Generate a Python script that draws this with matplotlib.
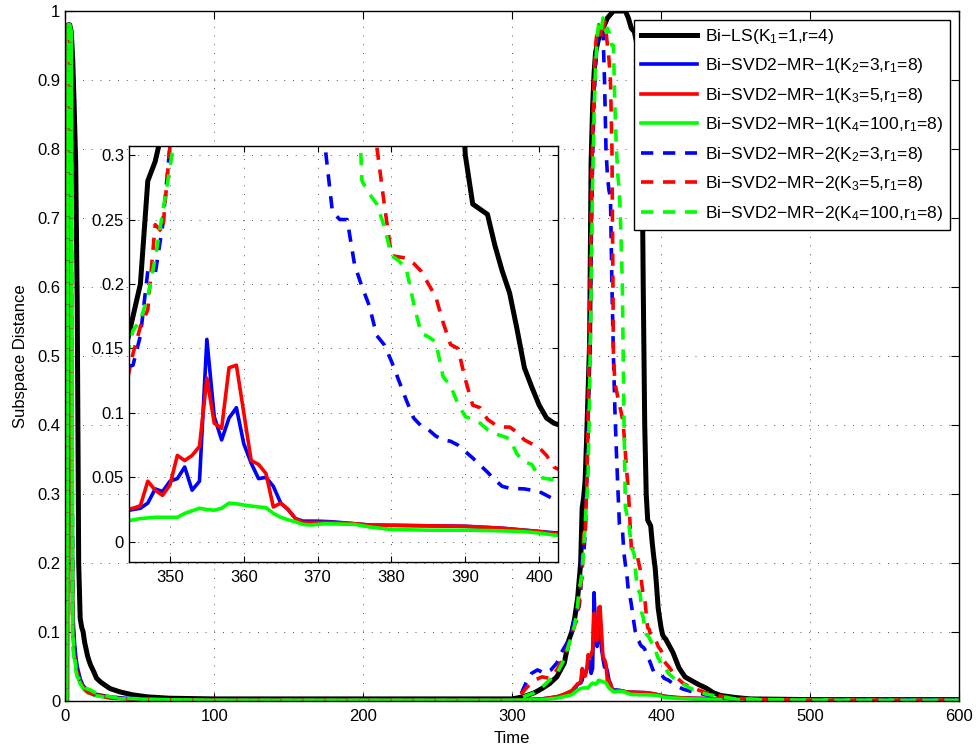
import numpy as np
import matplotlib
matplotlib.use("Agg")
import matplotlib.pyplot as plt
from matplotlib.ticker import FuncFormatter

plt.rcParams['font.family'] = ['Liberation Sans', 'DejaVu Sans']
plt.rcParams['mathtext.default'] = 'regular'

# subspace distance vs time, (t, value) knots for each tracker
ls_pts = [(1, 0), (2, 0.98), (3, 0.98), (4, 0.97), (5, 0.93), (6, 0.86), (7, 0.78), (8, 0.58),
          (9, 0.2), (10, 0.12), (11, 0.107), (12, 0.1), (13, 0.085), (14, 0.075), (15, 0.065),
          (16, 0.058), (17, 0.052), (19, 0.043), (21, 0.033), (24, 0.027), (30, 0.018), (37, 0.013),
          (45, 0.009), (55, 0.006), (70, 0.004), (100, 0.003), (200, 0.003), (300, 0.003),
          (305, 0.005), (310, 0.008), (315, 0.012), (320, 0.018), (325, 0.025), (330, 0.035),
          (335, 0.055), (338, 0.088), (340, 0.1), (342, 0.12), (343, 0.135), (344, 0.15),
          (345, 0.175), (346, 0.2), (347, 0.28), (348, 0.295), (349, 0.32), (350, 0.38),
          (351, 0.45), (352, 0.52), (353, 0.78), (354, 0.86), (355, 0.91), (356, 0.94),
          (358, 0.96), (360, 0.97), (362, 0.98), (364, 0.99), (366, 0.995), (368, 1.0),
          (372, 1.0), (376, 1.0), (378, 0.99), (380, 0.975), (382, 0.97), (384, 0.95),
          (385, 0.94), (386, 0.92), (387, 0.85), (388, 0.6), (389, 0.4), (390, 0.3),
          (391, 0.262), (392, 0.258), (393, 0.254), (394, 0.23), (395, 0.21), (396, 0.193),
          (397, 0.165), (398, 0.135), (399, 0.12), (400, 0.106), (401, 0.096), (402, 0.092),
          (403, 0.09), (405, 0.082), (408, 0.07), (412, 0.048), (416, 0.035), (420, 0.03),
          (425, 0.024), (430, 0.019), (435, 0.012), (440, 0.008), (450, 0.005), (460, 0.003),
          (500, 0.002), (600, 0.002)]

mr1_k2_pts = [(1, 0), (2, 0.98), (3, 0.98), (4, 0.6), (5, 0.13), (6, 0.09), (7, 0.065), (8, 0.05),
              (10, 0.032), (12, 0.022), (15, 0.015), (20, 0.01), (30, 0.006), (40, 0.004),
              (60, 0.002), (100, 0.001), (300, 0.001), (310, 0.002), (320, 0.003), (330, 0.006),
              (335, 0.009), (340, 0.014), (342, 0.018), (344, 0.024), (345, 0.025), (346, 0.026),
              (347, 0.03), (348, 0.041), (349, 0.039), (350, 0.047), (351, 0.049), (352, 0.058),
              (353, 0.04), (354, 0.047), (355, 0.157), (356, 0.097), (357, 0.079), (358, 0.096),
              (359, 0.104), (360, 0.076), (361, 0.061), (362, 0.049), (363, 0.05), (364, 0.043),
              (365, 0.03), (366, 0.025), (367, 0.018), (368, 0.016), (370, 0.016), (372, 0.0155),
              (375, 0.014), (377, 0.013), (390, 0.012), (395, 0.0105), (400, 0.008), (402, 0.007),
              (410, 0.005), (420, 0.004), (440, 0.003), (460, 0.002), (500, 0.001), (590, 0.002),
              (600, 0.002)]

mr1_k3_pts = [(1, 0), (2, 0.98), (3, 0.98), (4, 0.5), (5, 0.1), (6, 0.075), (7, 0.055), (8, 0.042),
              (10, 0.028), (12, 0.02), (15, 0.013), (20, 0.009), (30, 0.005), (40, 0.003),
              (60, 0.002), (100, 0.001), (300, 0.001), (310, 0.002), (320, 0.003), (330, 0.006),
              (335, 0.01), (340, 0.015), (342, 0.02), (344, 0.025), (345, 0.026), (346, 0.028),
              (347, 0.047), (348, 0.04), (349, 0.036), (350, 0.044), (351, 0.067), (352, 0.063),
              (353, 0.067), (354, 0.074), (355, 0.127), (356, 0.092), (357, 0.088), (358, 0.135),
              (359, 0.137), (360, 0.1), (361, 0.063), (362, 0.06), (363, 0.053), (364, 0.027),
              (365, 0.03), (366, 0.025), (367, 0.018), (368, 0.015), (370, 0.015), (372, 0.015),
              (375, 0.014), (377, 0.013), (390, 0.012), (395, 0.0105), (400, 0.008), (402, 0.0065),
              (410, 0.005), (420, 0.004), (440, 0.003), (460, 0.002), (500, 0.001), (600, 0.001)]

mr1_k4_pts = [(1, 0), (2, 0.98), (3, 0.98), (4, 0.97), (5, 0.1), (6, 0.07), (7, 0.05), (8, 0.038),
              (10, 0.025), (12, 0.018), (15, 0.012), (20, 0.008), (30, 0.004), (40, 0.003),
              (60, 0.002), (100, 0.001), (300, 0.001), (320, 0.002), (330, 0.004), (340, 0.009),
              (344, 0.016), (346, 0.018), (348, 0.019), (351, 0.019), (352, 0.022), (353, 0.024),
              (354, 0.026), (355, 0.025), (356, 0.0245), (357, 0.026), (358, 0.03), (359, 0.0295),
              (360, 0.0285), (362, 0.027), (363, 0.0265), (364, 0.022), (365, 0.019), (366, 0.017),
              (367, 0.0155), (368, 0.0135), (369, 0.013), (370, 0.0135), (371, 0.014), (375, 0.0135),
              (377, 0.0115), (380, 0.0095), (385, 0.009), (390, 0.009), (395, 0.0085), (398, 0.0078),
              (400, 0.0068), (402, 0.0052), (410, 0.004), (420, 0.003), (440, 0.002), (600, 0.001)]

mr2_k2_pts = [(1, 0), (2, 0.98), (3, 0.98), (4, 0.7), (5, 0.12), (6, 0.08), (7, 0.06), (8, 0.045),
              (10, 0.03), (12, 0.02), (15, 0.014), (20, 0.009), (30, 0.005), (40, 0.003),
              (60, 0.002), (100, 0.001), (300, 0.001), (302, 0.005), (306, 0.01), (310, 0.03),
              (313, 0.04), (317, 0.045), (322, 0.04), (326, 0.045), (330, 0.055), (333, 0.07),
              (337, 0.085), (340, 0.1), (342, 0.12), (344, 0.135), (345, 0.137), (346, 0.16),
              (347, 0.21), (348, 0.208), (349, 0.245), (350, 0.307), (351, 0.4), (352, 0.52),
              (353, 0.65), (354, 0.78), (355, 0.87), (356, 0.92), (357, 0.95), (358, 0.965),
              (359, 0.975), (360, 0.98), (361, 0.97), (362, 0.9), (363, 0.8), (364, 0.76),
              (365, 0.74), (366, 0.73), (367, 0.6), (368, 0.5), (369, 0.42), (370, 0.36),
              (371, 0.307), (372, 0.256), (373, 0.25), (374, 0.25), (375, 0.215), (376, 0.198),
              (377, 0.183), (378, 0.16), (379, 0.153), (380, 0.14), (381, 0.125), (382, 0.11),
              (383, 0.096), (384, 0.09), (385, 0.087), (386, 0.082), (387, 0.079), (388, 0.078),
              (389, 0.075), (390, 0.07), (391, 0.065), (392, 0.0595), (393, 0.054), (394, 0.048),
              (395, 0.043), (396, 0.0415), (398, 0.041), (399, 0.04), (400, 0.039), (401, 0.036),
              (402, 0.033), (403, 0.032), (405, 0.03), (410, 0.022), (415, 0.017), (420, 0.014),
              (430, 0.009), (440, 0.005), (450, 0.003), (470, 0.002), (500, 0.001), (580, 0.002),
              (600, 0.002)]

mr2_k3_pts = [(1, 0), (2, 0.98), (3, 0.98), (4, 0.6), (5, 0.09), (6, 0.07), (7, 0.05), (8, 0.04),
              (10, 0.028), (12, 0.02), (15, 0.013), (20, 0.009), (30, 0.005), (40, 0.003),
              (60, 0.002), (100, 0.001), (300, 0.001), (302, 0.005), (306, 0.01), (310, 0.02),
              (315, 0.03), (320, 0.035), (325, 0.033), (330, 0.045), (335, 0.065), (340, 0.095),
              (342, 0.11), (344, 0.12), (345, 0.146), (346, 0.167), (347, 0.18), (348, 0.246),
              (349, 0.24), (350, 0.307), (351, 0.42), (352, 0.55), (353, 0.7), (354, 0.82),
              (355, 0.9), (356, 0.95), (357, 0.97), (358, 0.98), (359, 0.975), (360, 0.96),
              (361, 0.97), (362, 0.985), (363, 0.97), (364, 0.95), (365, 0.93), (366, 0.9),
              (367, 0.8), (368, 0.5), (369, 0.46), (370, 0.45), (371, 0.44), (372, 0.43),
              (373, 0.42), (374, 0.41), (375, 0.39), (376, 0.36), (377, 0.33), (378, 0.307),
              (379, 0.263), (380, 0.222), (381, 0.221), (382, 0.22), (383, 0.216), (384, 0.21),
              (385, 0.2), (386, 0.19), (387, 0.17), (388, 0.153), (389, 0.15), (390, 0.126),
              (391, 0.106), (392, 0.104), (393, 0.095), (394, 0.091), (395, 0.089), (396, 0.089),
              (397, 0.085), (398, 0.079), (399, 0.076), (400, 0.073), (401, 0.067), (402, 0.058),
              (403, 0.055), (405, 0.05), (410, 0.035), (415, 0.025), (420, 0.02), (430, 0.012),
              (440, 0.007), (450, 0.004), (470, 0.002), (500, 0.001), (600, 0.001)]

mr2_k4_pts = [(1, 0), (2, 0.98), (3, 0.98), (4, 0.97), (5, 0.08), (6, 0.06), (7, 0.045), (8, 0.035),
              (10, 0.03), (12, 0.022), (14, 0.018), (17, 0.016), (20, 0.012), (30, 0.006),
              (40, 0.004), (60, 0.002), (100, 0.001), (300, 0.001), (305, 0.004), (310, 0.008),
              (315, 0.012), (320, 0.02), (325, 0.03), (330, 0.04), (335, 0.06), (340, 0.095),
              (342, 0.11), (344, 0.14), (345, 0.164), (346, 0.172), (347, 0.19), (348, 0.22),
              (349, 0.255), (350, 0.29), (351, 0.33), (352, 0.45), (353, 0.6), (354, 0.75),
              (355, 0.85), (356, 0.92), (357, 0.96), (358, 0.98), (359, 0.985), (360, 0.975),
              (361, 0.99), (362, 0.98), (363, 0.97), (364, 0.975), (365, 0.97), (366, 0.96),
              (367, 0.95), (368, 0.95), (369, 0.86), (370, 0.8), (371, 0.76), (372, 0.74),
              (373, 0.68), (374, 0.6), (375, 0.42), (376, 0.28), (377, 0.27), (378, 0.262),
              (379, 0.245), (380, 0.222), (381, 0.218), (382, 0.212), (383, 0.185), (384, 0.162),
              (385, 0.159), (386, 0.155), (387, 0.128), (388, 0.121), (389, 0.107), (390, 0.097),
              (391, 0.095), (392, 0.092), (393, 0.087), (394, 0.084), (395, 0.082), (396, 0.08),
              (397, 0.068), (398, 0.062), (399, 0.06), (400, 0.05), (401, 0.049), (402, 0.048),
              (403, 0.047), (405, 0.04), (410, 0.03), (415, 0.024), (420, 0.018), (430, 0.01),
              (440, 0.006), (450, 0.003), (470, 0.002), (500, 0.001), (600, 0.001)]

labels = ['Bi\u2212LS(K$_1$=1,r=4)',
          'Bi\u2212SVD2\u2212MR\u22121(K$_2$=3,r$_1$=8)',
          'Bi\u2212SVD2\u2212MR\u22121(K$_3$=5,r$_1$=8)',
          'Bi\u2212SVD2\u2212MR\u22121(K$_4$=100,r$_1$=8)',
          'Bi\u2212SVD2\u2212MR\u22122(K$_2$=3,r$_1$=8)',
          'Bi\u2212SVD2\u2212MR\u22122(K$_3$=5,r$_1$=8)',
          'Bi\u2212SVD2\u2212MR\u22122(K$_4$=100,r$_1$=8)']

series = [ls_pts, mr1_k2_pts, mr1_k3_pts, mr1_k4_pts, mr2_k2_pts, mr2_k3_pts, mr2_k4_pts]
colors = ['k', '#0000ff', '#ff0000', '#00ff00', '#0000ff', '#ff0000', '#00ff00']
dashed = [False, False, False, False, True, True, True]
widths = [3.6, 2.6, 2.6, 2.6, 2.6, 2.6, 2.6]


def draw(ax):
    for pts, c, d, w, lab in zip(series, colors, dashed, widths, labels):
        t, v = np.array(pts, dtype=float).T
        kw = dict(dashes=(3.4, 2.7)) if d else {}
        ax.plot(t, v, color=c, lw=w, label=lab, **kw)


def style(ax, ticklen):
    ax.grid(True, color='#555555', linestyle=(0, (1, 8)), linewidth=0.7)
    ax.tick_params(direction='in', top=True, right=True, length=ticklen,
                   labelsize=12, width=0.8)
    ax.tick_params(axis='x', pad=6)
    for s in ax.spines.values():
        s.set_linewidth(1.0)


fig = plt.figure(figsize=(9.8, 7.49), dpi=100)
ax = fig.add_axes([0.0666, 0.0641, 0.912, 0.9212])
draw(ax)
ax.set_xlim(0, 600)
ax.set_ylim(0, 1)
ax.set_xticks(np.arange(0, 601, 100))
ax.set_yticks(np.arange(0, 1.01, 0.1))
ax.yaxis.set_major_formatter(FuncFormatter(lambda y, p: '%g' % round(y, 2)))
style(ax, 6)
ax.set_xlabel('Time', fontsize=12, labelpad=5)
ax.set_ylabel('Subspace Distance', fontsize=12, labelpad=7)

leg = ax.legend(loc='upper right', bbox_to_anchor=(0.99, 0.987), borderaxespad=0,
                fontsize=12.6, handlelength=3.2, handletextpad=0.45, labelspacing=0.6,
                borderpad=0.4, fancybox=False, framealpha=1, edgecolor='k')
leg.get_frame().set_linewidth(1.0)

# zoomed view of the peak
axin = fig.add_axes([0.1316, 0.250, 0.4374, 0.555])
axin.set_facecolor('white')
draw(axin)
axin.set_xlim(344.45, 402.5)
axin.set_ylim(-0.0155, 0.307)
axin.set_xticks(np.arange(350, 401, 10))
axin.set_yticks(np.arange(0, 0.301, 0.05))
axin.yaxis.set_major_formatter(FuncFormatter(lambda y, p: '%g' % round(y, 2)))
style(axin, 4)

fig.savefig('out.png', dpi=100)
